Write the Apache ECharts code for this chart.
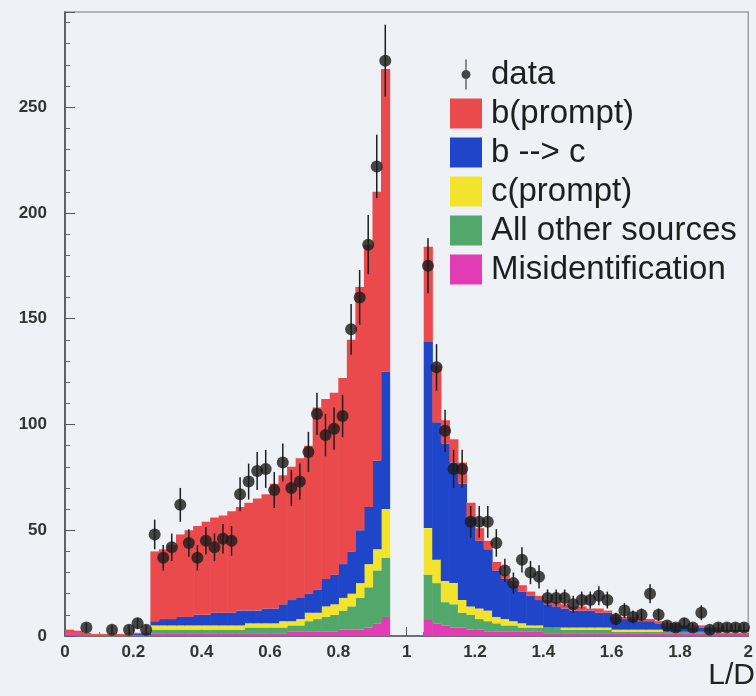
<!DOCTYPE html>
<html>
<head>
<meta charset="utf-8">
<script src="https://cdn.jsdelivr.net/npm/echarts@6.0.0/dist/echarts.min.js"></script>
<style>
html, body { margin: 0; padding: 0; background: #eef1f5; }
#chart { width: 756px; height: 696px; }
</style>
</head>
<body>
<div id="chart"></div>
<script>
// histogram bins: 80 bins of 0.025 from 0 to 2
var binStart = 0
var binWidth = 0.025

// measured counts (null = no point drawn)
var dataCounts = [
  null, null, 4, null, null, 3, null, 3, 6, 3,
  48, 37, 42, 62, 44, 37, 45, 42, 46, 45,
  67, 73, 78, 79, 69, 82, 70, 73, 87, 105,
  95, 98, 104, 145, 160, 185, 222, 272, null, null,
  null, null, 175, 127, 97, 79, 79, 54, 54, 54,
  44, 31, 25, 36, 30, 28, 18, 18, 18, 15,
  17, 17, 19, 17, 8, 12, 9, 10, 20, 10,
  5, 4, 6, 4, 11, 3, 4, 4, 4, 4
]
var dataErrors = [
  null, null, 2, null, null, 2, null, 2, 2.5, 2,
  7, 6, 6.5, 8, 6.5, 6, 6.5, 6.5, 7, 7,
  8, 8.5, 9, 9, 8.5, 9, 8.5, 8.5, 9.5, 10,
  10, 10, 10, 12, 13, 14, 15, 17, null, null,
  null, null, 13, 11, 10, 9, 9, 7.5, 7.5, 7.5,
  6.5, 5.5, 5, 6, 5.5, 5.5, 4, 4, 4, 4,
  4, 4, 4.5, 4, 3, 3.5, 3, 3, 4.5, 3,
  2, 2, 2.5, 2, 3.5, 2, 2, 2, 2, 2
]

// simulated components, bottom to top
var misIdent = [
  1, 1, 0.5, 0.5, 0.5, 0.5, 0.5, 0.5, 0.5, 0.5,
  1, 1, 1, 1, 1, 1, 1, 1, 1, 1,
  1, 1, 1, 1, 1, 1, 2, 2, 2, 2,
  2, 2, 3, 3, 3, 4, 6, 9, 0, 0,
  0, 0, 8, 6, 5, 4, 4, 3, 3, 2,
  2, 2, 2, 2, 2, 2, 1, 1, 1, 1,
  1, 1, 1, 1, 1, 1, 1, 1, 1, 1,
  1, 1, 1, 1, 1, 1, 1, 1, 1, 1
]
var otherSources = [
  0, 0, 0, 0, 0, 0, 0, 0, 0, 0,
  2, 2, 2, 2, 2, 2, 2, 2, 2, 2,
  2, 3, 3, 3, 3, 3, 3, 3, 5, 6,
  7, 8, 9, 11, 15, 19, 25, 28, 0, 0,
  0, 0, 21, 19, 11, 11, 7, 7, 5, 5,
  4, 3, 3, 2, 2, 2, 3, 3, 2, 2,
  2, 2, 2, 2, 1, 1, 1, 1, 1, 1,
  1, 1, 1, 1, 1, 1, 0.5, 0.5, 0.5, 0.5
]
var cPrompt = [
  0, 0, 0, 0, 0, 0, 0, 0, 0, 0,
  2, 2, 2, 2, 2, 2, 2, 2, 2, 2,
  2, 2, 2, 2, 2, 3, 2, 3, 4, 3,
  5, 5, 6, 6, 7, 11, 10, 23, 0, 0,
  0, 0, 22, 11, 10, 10, 6, 4, 5, 5,
  3, 3, 2, 2, 1, 1, 0, 0, 1, 1,
  1, 1, 1, 1, 1, 1, 1, 1, 1, 1,
  0, 0, 0, 0, 0, 0, 0.5, 0.5, 0.5, 0.5
]
var bToC = [
  0, 0, 0, 0, 0, 0, 0, 0, 0.5, 0.5,
  2, 3, 3, 4, 4, 5, 5, 6, 6, 6,
  7, 6, 6, 7, 7, 8, 10, 10, 9, 11,
  13, 14, 16, 20, 25, 27, 42, 65, 0, 0,
  0, 0, 88, 65, 65, 57, 55, 42, 32, 29,
  22, 19, 17, 15, 14, 12, 11, 10, 9, 8,
  8, 8, 7, 7, 6, 5, 5, 4, 4, 3,
  3, 3, 3, 2, 2, 2, 1, 1, 1, 1
]
var bPrompt = [
  2, 1.5, 1, 0.5, 0.5, 0.5, 0.5, 0.5, 0.5, 0.5,
  33, 33, 35, 39, 41, 42, 44, 45, 46, 48,
  49, 51, 53, 54, 59, 61, 63, 66, 70, 86,
  85, 86, 88, 100, 115, 124, 127, 143, 0, 0,
  0, 0, 45, 27, 11, 11, 10, 7, 6, 4,
  4, 2, 2, 3, 2, 2, 2, 2, 2, 2,
  2, 1, 2, 1, 1, 1, 1, 1, 1, 1,
  1, 1, 0, 1, 1, 0, 1, 0, 0, 0
]

var components = [
  { name: 'Misidentification', values: misIdent, color: '#e23cb4' },
  { name: 'All other sources', values: otherSources, color: '#52a86a' },
  { name: 'c(prompt)', values: cPrompt, color: '#f2e42c' },
  { name: 'b --> c', values: bToC, color: '#1f45c8' },
  { name: 'b(prompt)', values: bPrompt, color: '#ea4a4c' }
]

function histItem(params, api) {
  let base = api.value(2)
  let top = api.value(3)
  if (!(top > base)) return null
  let p0 = api.coord([api.value(0), base])
  let p1 = api.coord([api.value(1), top])
  return {
    type: 'rect',
    shape: { x: p0[0], y: p1[1], width: p1[0] - p0[0] + 0.6, height: p0[1] - p1[1] },
    style: { fill: api.visual('color') }
  }
}

function errItem(params, api) {
  let a = api.coord([api.value(0), api.value(1)])
  let b = api.coord([api.value(0), api.value(2)])
  return {
    type: 'line',
    shape: { x1: a[0], y1: a[1], x2: b[0], y2: b[1] },
    style: { stroke: '#1e1e1e', lineWidth: 1.5 }
  }
}

let series = []
let cum = dataCounts.map(() => 0)
for (let c of components) {
  let items = []
  c.values.forEach((v, i) => {
    let lo = binStart + i * binWidth
    items.push([lo, lo + binWidth, cum[i], cum[i] + v])
    cum[i] += v
  })
  series.push({
    name: c.name,
    type: 'custom',
    renderItem: histItem,
    itemStyle: { color: c.color },
    encode: { x: [0, 1], y: [2, 3] },
    data: items,
    clip: true
  })
}

let points = []
let errs = []
dataCounts.forEach((v, i) => {
  if (v == null) return
  let x = binStart + (i + 0.5) * binWidth
  points.push([x, v])
  errs.push([x, v - dataErrors[i], v + dataErrors[i]])
})

series.push({
  name: 'errors',
  type: 'custom',
  renderItem: errItem,
  encode: { x: 0, y: [1, 2] },
  data: errs,
  z: 5
})
series.push({
  name: 'data',
  type: 'scatter',
  symbol: 'circle',
  symbolSize: 12,
  itemStyle: { color: '#1a1a1a' },
  data: points,
  z: 6
})

let ch = echarts.init(document.getElementById('chart'))
let font = 'Liberation Sans, Arial, Helvetica, sans-serif'
let option = {
  animation: false,
  backgroundColor: '#eef1f5',
  textStyle: { fontFamily: font },
  grid: {
    left: 65, right: 6, top: 12, bottom: 60,
    show: true,
    borderColor: '#9ea0a4',
    borderWidth: 1.5,
    backgroundColor: 'transparent'
  },
  legend: {
    orient: 'vertical',
    left: 445,
    top: 53,
    itemWidth: 32,
    itemHeight: 30,
    itemGap: 6,
    selectedMode: false,
    textStyle: { fontSize: 33, color: '#1e1e1e', fontFamily: font, padding: [0, 0, 0, 4] },
    data: [
      { name: 'data', icon: 'path://M4.4,0 L5.6,0 L5.6,30 L4.4,30 Z M9.5,15 A4.5,4.5 0 1 1 0.5,15 A4.5,4.5 0 1 1 9.5,15 Z' },
      { name: 'b(prompt)', icon: 'rect' },
      { name: 'b --> c', icon: 'rect' },
      { name: 'c(prompt)', icon: 'rect' },
      { name: 'All other sources', icon: 'rect' },
      { name: 'Misidentification', icon: 'rect' }
    ]
  },
  xAxis: {
    type: 'value',
    min: 0,
    max: 2,
    interval: 0.2,
    axisLine: { onZero: false, lineStyle: { color: '#55585c', width: 1.5 } },
    axisTick: { inside: true, length: 9, lineStyle: { color: '#55585c' } },
    minorTick: { show: true, splitNumber: 4, length: 4, lineStyle: { color: '#777' } },
    splitLine: { show: false },
    axisLabel: { color: '#333', fontSize: 17, fontWeight: 'bold', margin: 8 }
  },
  yAxis: {
    type: 'value',
    min: 0,
    max: 295,
    interval: 50,
    axisLine: { show: true, lineStyle: { color: '#44474b', width: 1.5 } },
    axisTick: { show: true, inside: true, length: 10, lineStyle: { color: '#55585c' } },
    minorTick: { show: true, splitNumber: 5, length: 5, lineStyle: { color: '#666' } },
    splitLine: { show: false },
    axisLabel: { color: '#333', fontSize: 17, fontWeight: 'bold', margin: 18, showMaxLabel: false }
  },
  graphic: [
    {
      type: 'text',
      right: 1,
      top: 661,
      style: { text: 'L/D', fontSize: 30, fill: '#222', fontFamily: font }
    }
  ],
  series: series
}
ch.setOption(option)
</script>
</body>
</html>
